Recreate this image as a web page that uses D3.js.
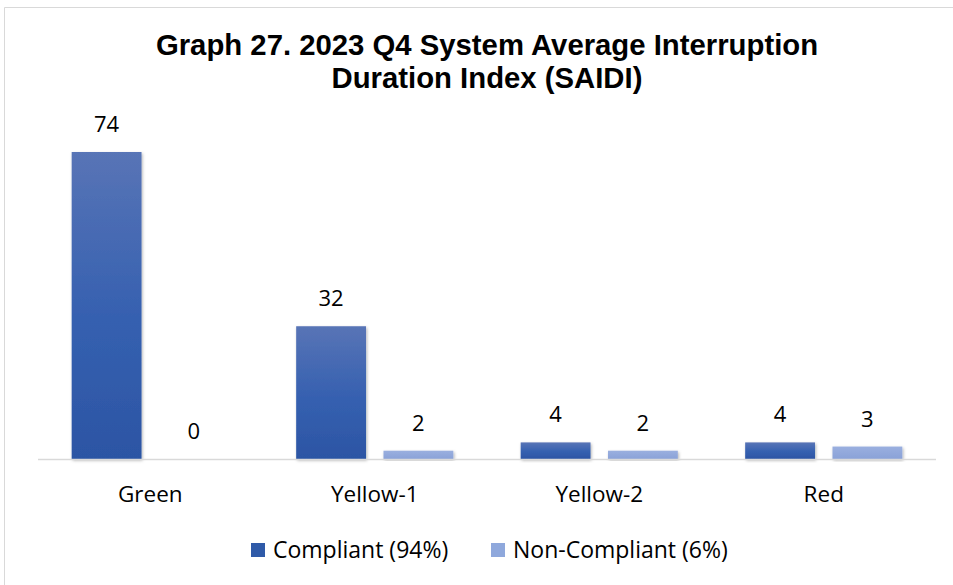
<!DOCTYPE html>
<html>
<head>
<meta charset="utf-8">
<script src="https://cdn.jsdelivr.net/npm/d3@7"></script>
<style>
  body { margin: 0; background: #fff; }
  text { font-family: "Open Sans", Lato, sans-serif; }
</style>
</head>
<body>
<div id="chart"></div>
<script>
// data
var categories = ["Green", "Yellow-1", "Yellow-2", "Red"];
var seriesNames = ["Compliant (94%)", "Non-Compliant (6%)"];
var compliant = [74, 32, 4, 4];
var nonCompliant = [0, 2, 2, 3];
var titleLines = ["Graph 27. 2023 Q4 System Average Interruption", "Duration Index (SAIDI)"];

var W = 953, H = 585;
var svg = d3.select('#chart').append('svg')
    .attr('width', W)
    .attr('height', H);

var defs = svg.append('defs');
var grad = defs.append('linearGradient')
    .attr('id', 'gradC').attr('x1', 0).attr('y1', 0).attr('x2', 0).attr('y2', 1);
grad.append('stop').attr('offset', '0%').attr('stop-color', '#5874b6');
grad.append('stop').attr('offset', '55%').attr('stop-color', '#3560b0');
grad.append('stop').attr('offset', '100%').attr('stop-color', '#2c55a4');
var grad2 = defs.append('linearGradient')
    .attr('id', 'gradN').attr('x1', 0).attr('y1', 0).attr('x2', 0).attr('y2', 1);
grad2.append('stop').attr('offset', '0%').attr('stop-color', '#9aafdf');
grad2.append('stop').attr('offset', '100%').attr('stop-color', '#8aa2d8');
var shadow = defs.append('filter').attr('id', 'shadow')
    .attr('x', '-20%').attr('y', '-20%').attr('width', '140%').attr('height', '140%');
shadow.append('feDropShadow')
    .attr('dx', 1).attr('dy', 1.5).attr('stdDeviation', 1.5)
    .attr('flood-color', '#000').attr('flood-opacity', 0.3);

// chart frame
svg.append('path')
    .attr('d', 'M4.5,' + (H + 2) + ' V7.5 H' + (W + 2))
    .attr('fill', 'none')
    .attr('stroke', '#d9d9d9')
    .attr('stroke-width', 1);

// title
svg.append('g').selectAll('text').data(titleLines).enter().append('text')
    .attr('x', 487)
    .attr('y', function (d, i) { return 55 + i * 33; })
    .attr('text-anchor', 'middle')
    .style('font-family', 'Arial, "Liberation Sans", sans-serif')
    .style('font-weight', 'bold')
    .style('font-size', '29.3px')
    .attr('fill', '#000')
    .text(function (d) { return d; });

// scales
var x0 = d3.scaleBand().domain(categories).range([38, 936]).paddingInner(0.3).paddingOuter(0.15);
var x1 = d3.scaleBand().domain([0, 1]).range([0, x0.bandwidth()]).paddingInner(0.2);
var y = d3.scaleLinear().domain([0, 74]).range([459, 152]);

var rows = categories.map(function (c, i) {
    return { cat: c, vals: [compliant[i], nonCompliant[i]] };
});

// bars
var groups = svg.append('g').selectAll('g').data(rows).enter().append('g')
    .attr('transform', function (d) { return 'translate(' + x0(d.cat) + ',0)'; });

groups.selectAll('rect').data(function (d) { return d.vals; }).enter().append('rect')
    .attr('x', function (d, i) { return x1(i); })
    .attr('y', function (d) { return y(d); })
    .attr('width', x1.bandwidth())
    .attr('height', function (d) { return y(0) - y(d); })
    .attr('fill', function (d, i) { return i === 0 ? 'url(#gradC)' : 'url(#gradN)'; })
    .attr('filter', 'url(#shadow)');

// axis line
svg.append('line')
    .attr('x1', 38).attr('x2', 936)
    .attr('y1', 459.5).attr('y2', 459.5)
    .attr('stroke', '#d9d9d9').attr('stroke-width', 1.5);

// value labels
groups.selectAll('text.val').data(function (d) { return d.vals; }).enter().append('text')
    .attr('class', 'val')
    .attr('x', function (d, i) { return x1(i) + x1.bandwidth() / 2; })
    .attr('y', function (d) { return y(d) - 20; })
    .attr('text-anchor', 'middle')
    .style('font-size', '22px')
    .attr('fill', '#000')
    .text(function (d) { return d; });

// x axis labels
var xAxis = d3.axisBottom(x0).tickSize(0).tickPadding(0);
var gx = svg.append('g').attr('transform', 'translate(0,459)').call(xAxis);
gx.select('.domain').remove();
gx.selectAll('text')
    .attr('dy', 0)
    .attr('y', 43)
    .style('font-size', '22.5px')
    .style('font-family', '"Open Sans", Lato, sans-serif')
    .attr('fill', '#000');

// legend
var legendItems = [
    { name: seriesNames[0], color: '#2f5aa8', x: 251 },
    { name: seriesNames[1], color: '#8fa8dc', x: 491 }
];
var lg = svg.append('g').selectAll('g').data(legendItems).enter().append('g')
    .attr('transform', function (d) { return 'translate(' + d.x + ',543)'; });
lg.append('rect').attr('width', 14).attr('height', 14).attr('fill', function (d) { return d.color; });
lg.append('text')
    .attr('x', 22).attr('y', 15)
    .style('font-size', '23px')
    .attr('fill', '#000')
    .text(function (d) { return d.name; });
</script>
</body>
</html>
